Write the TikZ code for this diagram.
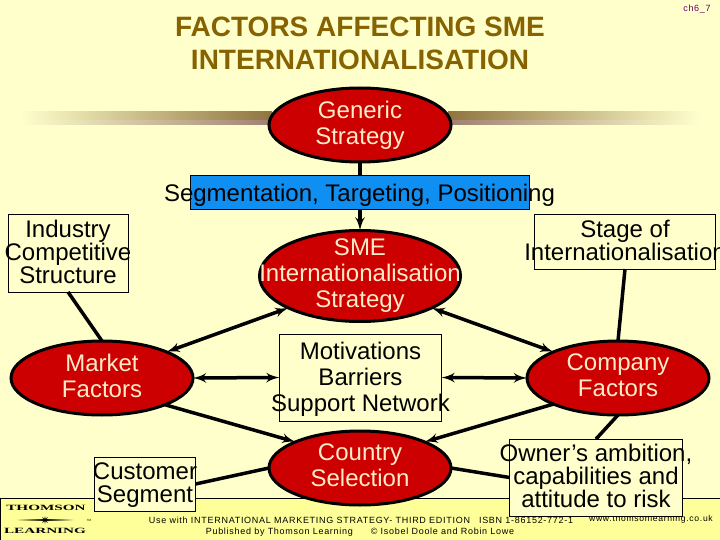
\documentclass[tikz,border=0pt]{standalone}
\usepackage{fontspec}
\setmainfont{Liberation Sans}
\newfontfamily\footfont{Liberation Sans}[LetterSpace=8]
\newfontfamily\logofont{Liberation Serif}[FakeStretch=1.9]
\usepackage{tikz}
\usepackage{color}
\definecolor{slidebg}{HTML}{FFFFCC}
\definecolor{footbg}{HTML}{FFFF99}
\definecolor{factorred}{HTML}{CC0000}
\definecolor{factortext}{HTML}{FFEBC8}
\definecolor{segblue}{HTML}{0F8FF2}
\definecolor{titlebrown}{HTML}{866300}
\definecolor{bargold}{HTML}{8F7440}
\definecolor{barmauve}{HTML}{A07F72}
\definecolor{chapterpurple}{HTML}{660066}
\usetikzlibrary{shapes,arrows}
\tikzstyle{factor} = [ellipse, draw=black, line width=3pt, fill=factorred, text=factortext,
    inner sep=-40pt, outer sep=0pt, minimum width=182pt, minimum height=74pt, text depth=5pt,
    align=center, font=\fontsize{24}{26}\selectfont]
\tikzstyle{infobox} = [rectangle, draw=black, line width=1pt, fill=slidebg, text depth=3pt,
    inner sep=-40pt, outer sep=0pt, align=center, font=\fontsize{24}{23}\selectfont]
\tikzstyle{line} = [draw, line width=3.5pt]
\tikzstyle{oneway} = [line, -latex']
\tikzstyle{twoway} = [line, latex'-latex']
\tikzstyle{footnote} = [inner sep=0pt, font=\footfont\fontsize{9}{11}\selectfont]
\tikzstyle{logo} = [inner sep=0pt, font=\logofont\bfseries\fontsize{8}{8}\selectfont]

\begin{document}
\begin{tikzpicture}[x=1pt, y=-1pt]
    \useasboundingbox (0,0) rectangle (720,540);
    % Slide background
    \fill [slidebg] (0,0) rectangle (720,540);
    \fill [left color=slidebg, right color=bargold] (20,112) rectangle (272,120);
    \fill [left color=slidebg, right color=barmauve] (20,121) rectangle (272,125);
    \fill [left color=bargold, right color=slidebg] (448,112) rectangle (700,120);
    \fill [left color=barmauve, right color=slidebg] (448,121) rectangle (700,125);
    % Footer
    \draw [fill=footbg, line width=1pt] (0.5,498) rectangle (721,541);
    \node [logo] (thomson) at (46,508) {THOMSON};
    \node [logo] (learning) at (45,531) {LEARNING};
    \fill [left color=footbg, right color=black] (16,519.5) rectangle (45,520.5);
    \fill [left color=black, right color=footbg] (45,519.5) rectangle (74,520.5);
    \node [star, star points=8, star point ratio=3, fill=black, inner sep=0pt, minimum size=8pt] (spark) at (45,520) {};
    \node [inner sep=0pt, font=\fontsize{3}{3}\selectfont] (tm) at (89,520) {TM};
    \node [footnote] (usewith) at (361,520) {Use with INTERNATIONAL MARKETING STRATEGY- THIRD EDITION\quad ISBN 1-86152-772-1};
    \node [footnote] (publisher) at (360,532) {Published by Thomson Learning\quad\quad © Isobel Doole and Robin Lowe};
    \node [footnote, font=\footfont\fontsize{8.6}{11}\selectfont] (website) at (651,519) {www.thomsonlearning.co.uk};
    % Place nodes
    \node [text=titlebrown, align=center, font=\bfseries\fontsize{28}{33}\selectfont] (title) at (360,43.5) {FACTORS AFFECTING SME\\INTERNATIONALISATION};
    \node [footnote, text=chapterpurple] (chapter) at (697,9) {ch6\_7};
    \node [factor] (generic) at (360,125) {Generic\\Strategy};
    \node [factor, minimum width=201pt, minimum height=91pt] (sme) at (360,276) {SME\\Internationalisation\\Strategy};
    \node [factor] (market) at (102,378) {Market\\Factors};
    \node [factor] (company) at (618,378) {Company\\Factors};
    \node [factor] (country) at (360,468) {Country\\Selection};
    \node [infobox, minimum width=120pt, minimum height=77pt] (industry) at (68,253.5) {Industry\\Competitive\\Structure};
    \node [infobox, minimum width=181pt, minimum height=54pt] (stage) at (625,242) {Stage of\\Internationalisation};
    \node [infobox, minimum width=162pt, minimum height=87pt, text depth=1pt, font=\fontsize{24}{26}\selectfont] (motives) at (360.5,377.5) {Motivations\\Barriers\\Support Network};
    \node [infobox, minimum width=101pt, minimum height=54pt] (customer) at (145,484) {Customer\\Segment};
    \node [infobox, minimum width=173pt, minimum height=77pt] (owner) at (596,477.5) {Owner’s ambition,\\capabilities and\\attitude to risk};
    % Draw edges
    \path [oneway] (generic) -- (sme);
    \path [line] (industry.south) -- (market.north);
    \path [line] (stage.south) -- (company.north);
    \path [twoway] (market.22) -- (sme.204);
    \path [twoway] (company.158) -- (sme.-24);
    \path [twoway] (market.east) -- (motives.west);
    \path [twoway] (company.west) -- (motives.east);
    \path [oneway] (market.-23) -- (country.158);
    \path [oneway] (company.202) -- (country.22);
    \path [line] (company.south) -- (owner.north);
    \path [line] (country.east) -- (owner.west);
    \path [line] (country.west) -- (customer.east);
    % Blue bar lies over the edge
    \node [infobox, minimum width=339pt, minimum height=34pt, fill=segblue, text depth=0pt, font=\fontsize{24}{26}\selectfont] (segment) at (359.5,193) {Segmentation, Targeting, Positioning};
\end{tikzpicture}
\end{document}
